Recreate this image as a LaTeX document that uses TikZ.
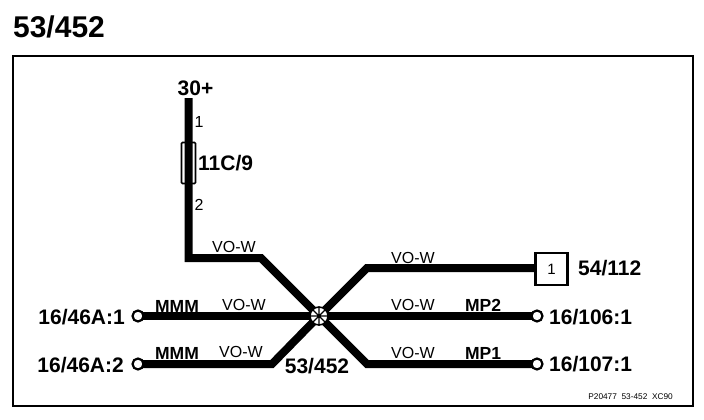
\documentclass[tikz,border=0pt]{standalone}
\usepackage{fontspec}
\setmainfont{Liberation Sans}
\tikzset{
 wire/.style={line width=8pt,line join=miter,line cap=butt},
 big/.style={inner sep=0pt,font=\bfseries\fontsize{21}{21}\selectfont},
 mid/.style={inner sep=0pt,font=\bfseries\fontsize{17.5}{17.5}\selectfont},
 col/.style={inner sep=0pt,font=\fontsize{16}{16}\selectfont},
 pin/.style={inner sep=0pt,font=\fontsize{16}{16}\selectfont},
 term/.style={circle,draw,line width=2.2pt,fill=white,minimum size=11pt,inner sep=0pt},
 boxstyle/.style={draw,line width=2.2pt,fill=white,minimum size=32pt,inner sep=0pt,font=\fontsize{15}{15}\selectfont},
}
\begin{document}
\begin{tikzpicture}[x=1pt,y=-1pt]
\useasboundingbox (0,0) rectangle (704,420);
\node[inner sep=0pt,font=\bfseries\fontsize{30}{30}\selectfont] (title) at (59,27) {53/452};
\draw[line width=2.2pt] (13,56) rectangle (693,406);
\coordinate (hub) at (319,316);
\coordinate (top) at (188.5,98);
\coordinate (c1) at (188.5,258);
\coordinate (c2) at (261,258);
\coordinate (c3) at (367,268);
\coordinate (c4) at (272,364);
\coordinate (c5) at (367,364);
\coordinate (t1) at (138,316);
\coordinate (t2) at (138,364);
\coordinate (t3) at (537,316);
\coordinate (t4) at (537,364);
\coordinate (box) at (551.5,269);
\draw[wire] (top) -- (c1) -- (c2) -- (hub);
\draw[wire] (box) -- (551.5,268) -- (c3) -- (hub);
\draw[wire] (t1) -- (hub);
\draw[wire] (t2) -- (c4) -- (hub);
\draw[wire] (t3) -- (hub);
\draw[wire] (t4) -- (c5) -- (hub);
\node[term] (n1) at (t1) {};
\node[term] (n2) at (t2) {};
\node[term] (n3) at (t3) {};
\node[term] (n4) at (t4) {};
\node[boxstyle] (nbox) at (box) {1};
\node[draw,line width=1.6pt,minimum width=14pt,minimum height=41pt,rounded corners=1pt,inner sep=0pt] (fuse) at (188.5,163) {};
\node[circle,draw,line width=1.5pt,fill=white,minimum size=18pt,inner sep=0pt] (star) at (hub) {};
\draw[line width=1.2pt] (star.north)--(star.south) (star.east)--(star.west) (star.45)--(star.225) (star.135)--(star.315);
\node[big] (l30) at (195.5,88) {30+};
\node[pin] (p1) at (199,122) {1};
\node[pin] (p2) at (199,205) {2};
\node[big,anchor=west] (lf) at (198,163) {11C/9};
\node[col] at (234,247) {VO-W};
\node[col] at (413,258) {VO-W};
\node[col] at (244,305) {VO-W};
\node[col] at (241,352) {VO-W};
\node[col] at (413,305) {VO-W};
\node[col] at (413,353) {VO-W};
\node[mid] at (177,306) {MMM};
\node[mid] at (177,353) {MMM};
\node[mid] at (483,305) {MP2};
\node[mid] at (483,353) {MP1};
\node[big,anchor=east] at (125,317) {16/46A:1};
\node[big,anchor=east] at (124,365) {16/46A:2};
\node[big] at (317,366) {53/452};
\node[big,anchor=west] at (578,268) {54/112};
\node[big,anchor=west] at (549,317) {16/106:1};
\node[big,anchor=west] at (549,364) {16/107:1};
\node[inner sep=0pt,font=\fontsize{8.3}{8.3}\selectfont,anchor=east] at (673,397) {P20477\ \ 53-452\ \ XC90};
\end{tikzpicture}
\end{document}
